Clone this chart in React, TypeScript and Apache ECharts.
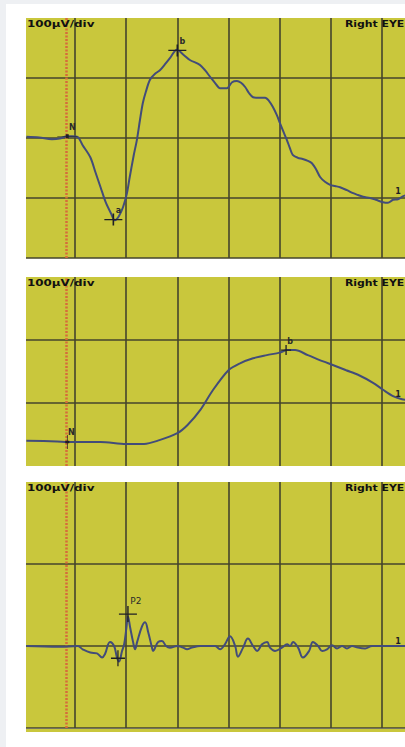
import React, { useEffect, useRef } from "react";
import * as echarts from "echarts";

// ---- data (time in ms, amplitude in µV) ----
const T1 = [1, 6, 11, 14, 17, 19, 21, 23, 26, 28, 30, 32, 34, 35.6, 37.2, 38.8, 40.3, 41.4, 43, 44.2, 45.4, 46.5, 47.7, 49.3, 51.3, 53.2, 55.2, 57.1, 59.8, 62.6, 64.9, 68.8, 70.8, 72.8, 74.7, 76.7, 79.4, 81.4, 83.3, 84.9, 86.5, 88, 89.6, 91.9, 94.3, 95.8, 97.3, 98.9, 100.1, 101.7, 102.8, 104, 105.1, 107.1, 109, 111, 112.6, 114.2, 115.8, 117.7, 119.7, 121.6, 123.6, 126.3, 128.7, 130.6, 132.6, 135.3, 137.6, 140.4, 142.3, 144.3, 146.2, 147.8, 149.5];
const V1 = [2, 1, -2, -1, 3, 3, 2, -12, -32, -57, -82, -107, -125, -137, -130, -115, -92, -65, -28, -3, 30, 58, 77, 97, 107, 113, 123, 133, 147, 138, 130, 122, 113, 102, 92, 83, 83, 93, 95, 92, 85, 75, 68, 67, 67, 62, 52, 38, 25, 8, -3, -17, -28, -33, -35, -38, -42, -52, -65, -73, -78, -80, -82, -87, -92, -95, -98, -100, -103, -107, -108, -103, -102, -98, -95];

const T2 = [1, 13, 17, 30, 40, 47, 53, 60, 64, 69, 74, 80, 84.5, 89.6, 95, 100, 103, 106, 111, 117, 121, 126, 131, 136.5, 140.4, 144.3, 147.8, 149.5];
const V2 = [-60, -61, -62, -62, -65, -65, -59, -48, -35, -11, 21, 52, 63, 71, 76, 80, 84, 84, 76, 66, 60, 52, 44, 32, 21, 11, 6, 5];

const T3 = [1, 14, 21, 23, 26, 28.6, 30.6, 31.7, 33.7, 35.3, 36.4, 37.2, 38.4, 39.2, 40.1, 40.7, 41.6, 42.7, 43.5, 44.3, 46.2, 47.4, 48.6, 50.1, 50.5, 52.5, 54, 55.6, 57.1, 60, 62.2, 63.8, 65.7, 69, 74.7, 76.7, 78.6, 80.6, 82.6, 83.7, 85.7, 87.6, 89.6, 91.2, 93.1, 95.1, 96.2, 98.2, 100.9, 102.9, 104.1, 105.2, 107.2, 109.1, 111.5, 113, 115, 116.6, 118.5, 120.5, 122.4, 124.4, 126.3, 128.3, 130.6, 133.4, 136.1, 140, 149.5];
const V3 = [0, -1, 0, -4, -8, -9, -14, -10, 5, 0, -14, -19, -6, 2, 22, 36, 22, 5, -4, 5, 24, 29, 17, -2, -6, 5, 6, 0, -2, 0, -2, -4, -2, 0, 0, -4, 2, 12, 0, -13, -2, 9, 0, -6, 2, 5, -2, -6, -2, 2, 0, 5, -2, -14, -6, 5, 0, -6, -4, 1, -3, 0, -3, 0, -2, -3, 0, 0, 0];

// peak markers: [label, time ms, amplitude µV]
const MARKERS1: [string, number, number][] = [["N", 17, 3], ["a", 35, -136], ["b", 60, 146]];
const MARKERS2: [string, number, number][] = [["N", 17, -62], ["b", 102.5, 84]];
const MARKERS3: [string, number, number][] = [["P2", 40.7, 39], ["", 36.8, -15]];
const END_LABEL = "1";
const END_POINTS: [number, number][] = [[147.8, -98], [147.8, 6], [147.8, 0]];

const STIMULUS_MS = 16.5;
const X_DIV_MS = 20;
const X_MAX_MS = 160;
const Y_DIV_UV = 100;
const Y_RANGES: [number, number][] = [[-200, 200], [-100, 200], [-100, 200]];
const SCALE_TEXT = "100µV/div";
const EYE_TEXT = "Right EYE";

// ---- styles / layout ----
const YELLOW = "#c9c73c";
const GRID_LINE = "#45442c";
const TRACE = "#424c7a";
const STIM = "#d66c3a";
const INK = "#1f1f24";
const PANELS = [
  { top: 18, height: 240, showMin: true },
  { top: 277, height: 189, showMin: false },
  { top: 482, height: 246, showMin: true },
];
const LEFT = 23.8;
const WIDTH = 409.4;

const CROSS = "path://M0,10L20,10M10,0L10,20";

function markerItems(markers: [string, number, number][], panel: number) {
  return markers.map(([label, t, v]) => {
    let size: number[] = [18, 12];
    let offset = [5, -9];
    let fontSize = 8;
    let fontWeight: any = "bold";
    if (panel === 0 && label === "N") size = [20, 4];
    if (panel === 1 && label === "N") { size = [4, 14]; offset = [4, -10]; }
    if (panel === 1 && label === "b") { size = [10, 10]; offset = [4, -9]; }
    if (panel === 2 && label === "P2") { size = [18, 16]; offset = [8, -13]; fontSize = 9; fontWeight = "normal"; }
    if (panel === 2 && label === "") { size = [14, 16]; }
    return {
      coord: [t, v],
      symbol: CROSS,
      symbolSize: size,
      itemStyle: { color: "transparent", borderColor: INK, borderWidth: 1.3 },
      label: {
        show: label !== "",
        formatter: label,
        position: "inside",
        offset,
        color: "#2a2a2a",
        fontSize,
        fontWeight,
        fontFamily: "DejaVu Sans",
      },
    };
  });
}

function endItem(i: number) {
  return {
    coord: END_POINTS[i],
    symbol: "circle",
    symbolSize: 1,
    itemStyle: { color: "transparent" },
    label: {
      show: true,
      formatter: END_LABEL,
      position: "inside",
      offset: [-4, -5],
      color: INK,
      fontSize: 8,
      fontWeight: "bold",
      fontFamily: "DejaVu Sans",
    },
  };
}

export default function App() {
  const ref = useRef<HTMLDivElement>(null);
  useEffect(() => {
    if (!ref.current) return;
    const chart = echarts.init(ref.current, undefined, { renderer: "svg" });
    const series = [
      [T1, V1, MARKERS1],
      [T2, V2, MARKERS2],
      [T3, V3, MARKERS3],
    ].map(([T, V, M]: any, i) => ({
      type: "line",
      xAxisIndex: i,
      yAxisIndex: i,
      data: (T as number[]).map((t, k) => [t, (V as number[])[k]]),
      showSymbol: false,
      smooth: i === 2 ? 0.4 : 0.3,
      lineStyle: { color: TRACE, width: 2 },
      z: 3,
      markLine: {
        silent: true,
        symbol: ["none", "none"],
        label: { show: false },
        lineStyle: { color: STIM, type: [2, 1.5], width: 2.5 },
        data: [{ xAxis: STIMULUS_MS }],
        z: 1,
      },
      markPoint: {
        silent: true,
        data: [...markerItems(M, i), endItem(i)],
      },
    }));

    const graphic: any[] = [
      { type: "rect", shape: { x: 0, y: 0, width: 440, height: 4 }, style: { fill: "#eef0f3" }, z: 100 },
      { type: "rect", shape: { x: 0, y: 0, width: 6, height: 747 }, style: { fill: "#eef0f3" }, z: 100 },
      { type: "rect", shape: { x: 26, y: 729, width: 414, height: 3 }, style: { fill: YELLOW }, z: 5 },
    ];
    PANELS.forEach((p) => {
      graphic.push({ type: "rect", shape: { x: 22, y: p.top - 1, width: 4, height: p.height + 6 }, style: { fill: "#ffffff" }, z: 50 });
      graphic.push({
        type: "text", x: 27, y: p.top + 1, z: 60, scaleX: 1.4,
        style: { text: SCALE_TEXT, fill: "#111", font: "bold 8.5px 'DejaVu Sans'", textVerticalAlign: "top" },
      });
      graphic.push({
        type: "text", x: 345, y: p.top + 1, z: 60, scaleX: 1.28,
        style: { text: EYE_TEXT, fill: "#111", font: "bold 8.5px 'DejaVu Sans'", textVerticalAlign: "top" },
      });
    });

    chart.setOption({
      animation: false,
      backgroundColor: "#ffffff",
      grid: PANELS.map((p) => ({
        left: LEFT, top: p.top, width: WIDTH, height: p.height,
        show: true, backgroundColor: YELLOW, borderWidth: 0, containLabel: false,
      })),
      xAxis: PANELS.map((_, i) => ({
        type: "value", gridIndex: i, min: 0, max: X_MAX_MS, interval: X_DIV_MS,
        axisLine: { show: false }, axisTick: { show: false }, axisLabel: { show: false },
        splitLine: { show: true, showMinLine: false, lineStyle: { color: GRID_LINE, width: 1.6 } },
      })),
      yAxis: PANELS.map((p, i) => ({
        type: "value", gridIndex: i, min: Y_RANGES[i][0], max: Y_RANGES[i][1], interval: Y_DIV_UV,
        axisLine: { show: false }, axisTick: { show: false }, axisLabel: { show: false },
        splitLine: { show: true, showMaxLine: false, showMinLine: p.showMin, lineStyle: { color: GRID_LINE, width: 1.6 } },
      })),
      series,
      graphic,
    });
    return () => chart.dispose();
  }, []);
  return (
    <div style={{ position: "absolute", left: 0, top: 0, width: 405, height: 747, overflow: "hidden" }}>
      <div ref={ref} style={{ width: 440, height: 747 }} />
    </div>
  );
}
